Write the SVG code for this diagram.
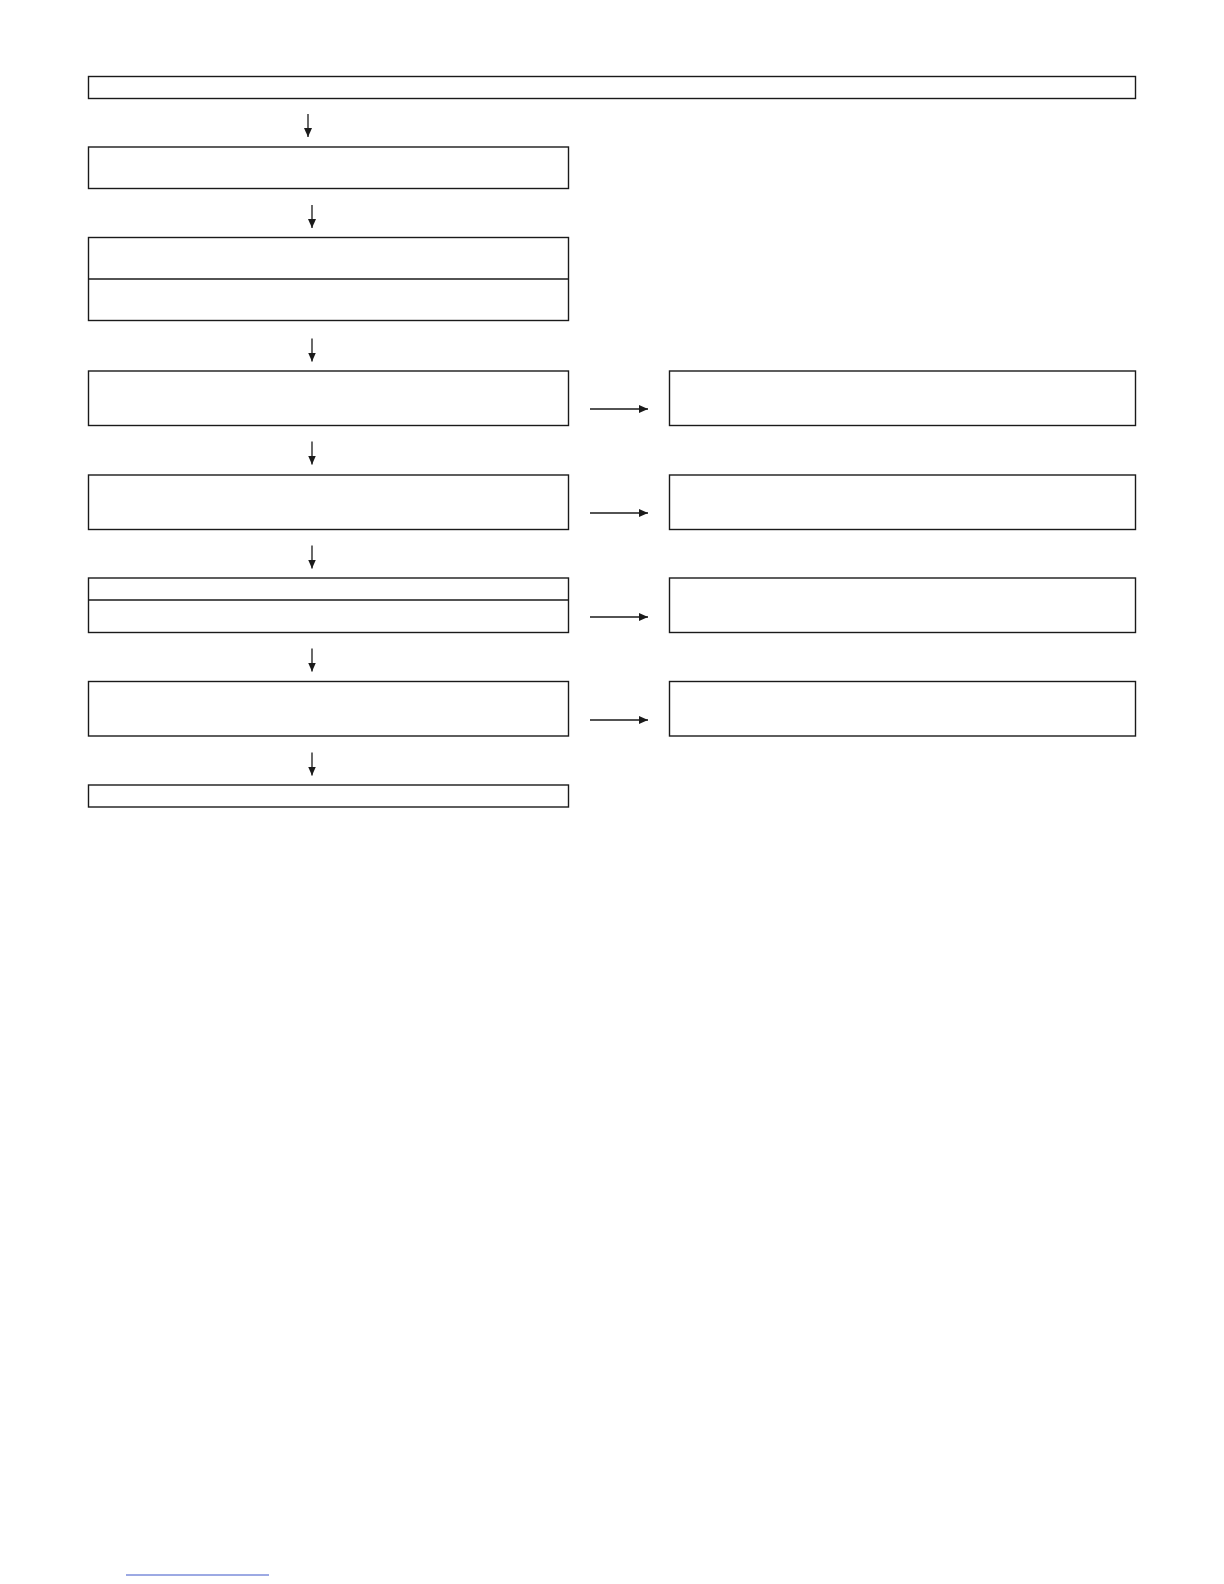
<svg xmlns="http://www.w3.org/2000/svg" width="1224" height="1584" viewBox="0 0 1224 1584">
<style>
.box{fill:#fff;stroke:#1a1a1a;stroke-width:1.4}
.div{stroke:#1a1a1a;stroke-width:1.4}
.conn{stroke:#1a1a1a;stroke-width:1.3;fill:none;marker-end:url(#ah)}
</style>
<defs>
<marker id="ah" viewBox="0 0 9 9" refX="9" refY="4.5" markerWidth="9" markerHeight="9" markerUnits="userSpaceOnUse" orient="auto">
<path d="M0,0.5 L9,4.5 L0,8.5 Z" fill="#1a1a1a"/>
</marker>
</defs>
<rect width="1224" height="1584" fill="#fff"/>
<g id="n1"><rect class="box" x="88.5" y="76.5" width="1047" height="22"/></g>
<g id="n2"><rect class="box" x="88.5" y="147" width="480" height="41.5"/></g>
<g id="n3"><rect class="box" x="88.5" y="237.5" width="480" height="83"/><line class="div" x1="88.5" y1="279" x2="568.5" y2="279"/></g>
<g id="n4"><rect class="box" x="88.5" y="371" width="480" height="54.5"/></g>
<g id="n5"><rect class="box" x="88.5" y="475" width="480" height="54.5"/></g>
<g id="n6"><rect class="box" x="88.5" y="578" width="480" height="54.5"/><line class="div" x1="88.5" y1="600" x2="568.5" y2="600"/></g>
<g id="n7"><rect class="box" x="88.5" y="681.5" width="480" height="54.5"/></g>
<g id="n8"><rect class="box" x="88.5" y="785" width="480" height="22"/></g>
<g id="r4"><rect class="box" x="669.5" y="371" width="466" height="54.5"/></g>
<g id="r5"><rect class="box" x="669.5" y="475" width="466" height="54.5"/></g>
<g id="r6"><rect class="box" x="669.5" y="578" width="466" height="54.5"/></g>
<g id="r7"><rect class="box" x="669.5" y="681.5" width="466" height="54.5"/></g>
<g id="connectors">
<line class="conn" x1="308" y1="114" x2="308" y2="137"/>
<line class="conn" x1="312" y1="205" x2="312" y2="228"/>
<line class="conn" x1="312" y1="338.5" x2="312" y2="361.5"/>
<line class="conn" x1="312" y1="441.5" x2="312" y2="464.5"/>
<line class="conn" x1="312" y1="545.5" x2="312" y2="568.5"/>
<line class="conn" x1="312" y1="648.5" x2="312" y2="671.5"/>
<line class="conn" x1="312" y1="752.5" x2="312" y2="775.5"/>
<line class="conn" x1="590" y1="409" x2="648" y2="409"/>
<line class="conn" x1="590" y1="513" x2="648" y2="513"/>
<line class="conn" x1="590" y1="617" x2="648" y2="617"/>
<line class="conn" x1="590" y1="720" x2="648" y2="720"/>
</g>
<line x1="126" y1="1575" x2="269" y2="1575" stroke="#3a55c8" stroke-width="1"/>
</svg>
